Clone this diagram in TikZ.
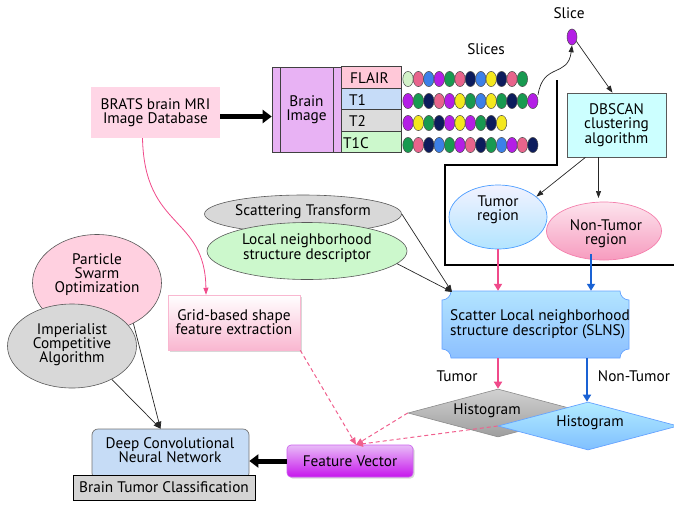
\documentclass[tikz,border=0pt]{standalone}
\usepackage{fontspec}
\setmainfont{PT Sans}
\usetikzlibrary{shapes.geometric,arrows.meta,shadows}
\definecolor{bratspink}{HTML}{FFD6E6}
\definecolor{brainviolet}{HTML}{E8B2F4}
\definecolor{flairpink}{HTML}{FFC8D8}
\definecolor{tonebl}{HTML}{C6DCF8}
\definecolor{ttwogr}{HTML}{DCDCDC}
\definecolor{tcgreen}{HTML}{CCF8CC}
\definecolor{dbcyan}{HTML}{CCFFFF}
\definecolor{bpale}{HTML}{D2F2C8}
\definecolor{bpink}{HTML}{E8648C}
\definecolor{bblue}{HTML}{3C80E8}
\definecolor{bpurple}{HTML}{B41EE6}
\definecolor{bgreen}{HTML}{189A50}
\definecolor{bnavy}{HTML}{0C1C5C}
\definecolor{byellow}{HTML}{F4E81E}
\definecolor{arrpink}{HTML}{F04A8A}
\definecolor{arrblue}{HTML}{1A62D4}
\definecolor{dashpink}{HTML}{F0608E}
\definecolor{psopink}{HTML}{FFD0E0}
\definecolor{icagray}{HTML}{D8D8D8}
\definecolor{dcnnblue}{HTML}{C6DCF6}
\definecolor{btcgray}{HTML}{D4D4D4}
\tikzset{
  every node/.style={font=\fontsize{15.3}{14}\selectfont, align=center, inner sep=0pt},
  bead/.style={draw=black!70, line width=0.5pt},
  thinarrow/.style={draw=black!85, line width=0.7pt, -{Triangle[length=7pt,width=5pt]}},
  fatarrow/.style={draw=black, line width=5pt, -{Triangle[length=9pt,width=13pt]}},
  colarrow/.style={line width=2.4pt, -{Triangle[length=7pt,width=8pt]}},
  dasharrow/.style={draw=dashpink, line width=1pt, dash pattern=on 4pt off 3pt, -{Triangle[length=7pt,width=6pt]}},
  ell/.style={ellipse, draw=black!65, line width=0.6pt},
  cell/.style={draw=black!75, line width=0.6pt, minimum width=60pt, minimum height=21.5pt}
}
\begin{document}
\begin{tikzpicture}[x=1pt,y=-1pt]
\path[use as bounding box] (0,0) rectangle (674,504);

% BRATS box
\node[fill=bratspink, minimum width=129pt, minimum height=51pt] (brats) at (155.5,112.5) {BRATS brain MRI\\Image Database};

% Brain image
\node[draw=black!75, line width=0.6pt, fill=brainviolet, minimum width=69pt, minimum height=85pt] (brain) at (306.5,109.5) {Brain\\Image};
\draw[black!75, line width=0.6pt] (280,67) -- (280,152) (333,67) -- (333,152);
\node[cell, fill=flairpink] (flair) at (371.5,77.5) {};
\node[cell, fill=tonebl] (tone) at (371.5,99) {};
\node[cell, fill=ttwogr] (ttwo) at (371.5,120.5) {};
\node[cell, fill=tcgreen] (tonec) at (371.5,142) {};
\node[anchor=west] at (350,78) {FLAIR};
\node[anchor=west] at (349,100) {T1};
\node[anchor=west] at (349,121) {T2};
\node[anchor=west] at (343,143) {T1C};

\draw[fatarrow] ([yshift=-4pt]brats.east) -- ([yshift=-4pt]brats.east -| brain.west);

% beads
\foreach \c [count=\i from 0] in {bpale,bpink,bblue,bpurple,bgreen,bpink,bnavy,bblue,byellow,bnavy,bpink,bgreen}
  \draw[bead, fill=\c] (408+\i*10.4,79) ellipse[x radius=5.2, y radius=7.6];
\foreach \c [count=\i from 0] in {bpurple,bgreen,bnavy,bpink,bpurple,byellow,bgreen,bblue,byellow,bgreen,bnavy,bgreen,bpurple}
  \draw[bead, fill=\c] (408+\i*10.4,101) ellipse[x radius=5.2, y radius=7.6];
\foreach \c [count=\i from 0] in {bpurple,byellow,bgreen,bnavy,bpurple,byellow,bpurple,bgreen,bnavy,byellow}
  \draw[bead, fill=\c] (408+\i*10.4,123) ellipse[x radius=5.2, y radius=7.6];
\foreach \c [count=\i from 0] in {bgreen,bpink,bnavy,bblue,bgreen,bpurple,bpink,bnavy,bgreen,bblue,bpurple,bpink,bnavy}
  \draw[bead, fill=\c] (408+\i*10.4,145) ellipse[x radius=5.2, y radius=7.6];

\node (slicestxt) at (486,49) {Slices};
\node (slicetxt) at (569,13) {Slice};
\node[ellipse, draw=black!70, line width=0.5pt, fill=bpurple, minimum width=10pt, minimum height=16pt] (slice) at (572,37) {};
\coordinate (rowend) at (538,95);
\draw[thinarrow] (rowend) .. controls (543,62) and (568,78) .. (slice.south);

% DBSCAN
\node[draw=black!65, line width=0.6pt, fill=dbcyan, minimum width=99pt, minimum height=64pt] (db) at (616.5,125) {DBSCAN\\clustering\\algorithm};
\draw[thinarrow] (slice.-45) -- ([xshift=-4pt]db.north);

% thick frame
\draw[black, line width=2.6pt] (557,80) -- (557,165) -- (445,165) -- (445,265) -- (676,265);

% regions
\node[ellipse, draw=blue!55!cyan!70, line width=0.7pt, top color=blue!5, bottom color=blue!35!cyan!30, minimum width=98pt, minimum height=64pt] (tumor) at (498,217) {};
\node at (498,210) {Tumor\\region};
\node[ellipse, draw=arrpink!70, line width=0.7pt, top color=white!85!arrpink, bottom color=arrpink!55, minimum width=115pt, minimum height=58pt] (nontumor) at (604,231) {};
\node at (606,234) {Non-Tumor\\region};
\draw[thinarrow] ([xshift=-31pt]db.south) -- (tumor.28);
\coordinate (dbs) at (598.5,157);
\draw[thinarrow] (dbs) -- (598.5,198);

% SLNS
\node[minimum width=187pt, minimum height=67pt, align=left] (slns) at (535.5,324.5) {};
\path[draw=blue!60!cyan!60, line width=0.7pt, top color=blue!35!cyan!30, bottom color=blue!55!cyan!45]
  (451,291) -- (620,291) .. controls (620,296) and (624,300) .. (629,300) -- (629,349)
  .. controls (624,349) and (620,353) .. (620,358) -- (451,358)
  .. controls (451,353) and (447,349) .. (442,349) -- (442,300)
  .. controls (447,300) and (451,296) .. (451,291) -- cycle;
\node[align=left, anchor=west] (slnstxt) at (450,324) {Scatter Local neighborhood\\structure descriptor (SLNS)};
\draw[colarrow, draw=arrpink, fill=arrpink] (tumor.south) -- (tumor.south |- slns.north);
\coordinate (bl1) at (591,254);
\draw[colarrow, draw=arrblue, fill=arrblue] (bl1) -- (bl1 |- slns.north);

% scattering / local
\node[ell, fill=icagray, minimum width=197pt, minimum height=38pt] (scat) at (303,214) {};
\node at (303,212) {Scattering Transform};
\node[ell, fill=tcgreen, minimum width=200pt, minimum height=57pt] (local) at (307,251) {};
\node at (307,248) {Local neighborhood\\structure descriptor};
\coordinate (slnsin) at (452,292);
\draw[thinarrow] (scat.east) -- (slnsin);
\draw[thinarrow] (local.-8) -- (slnsin);

% histograms
\node[diamond, draw=black!45, line width=0.6pt, top color=black!18, bottom color=black!38, minimum width=180pt, minimum height=48pt] (hista) at (498,413) {};
\node at (487,411) {Histogram};
\node[diamond, draw=blue!60!cyan!60, line width=0.7pt, top color=blue!25!cyan!30, bottom color=blue!50!cyan!50, minimum width=180pt, minimum height=48pt] (histb) at (588,426) {};
\node at (590,423) {Histogram};
\draw[colarrow, draw=arrpink, fill=arrpink] (tumor.south |- slns.south) -- (tumor.south |- hista.north);
\coordinate (bl2) at (587,358);
\draw[colarrow, draw=arrblue, fill=arrblue] (bl2) -- (bl2 |- histb.north);
\node (tumorlbl) at (457,376) {Tumor};
\node (nontumorlbl) at (634,376) {Non-Tumor};

% grid-based
\node[draw=arrpink!40, line width=0.5pt, top color=white, bottom color=arrpink!40, minimum width=132pt, minimum height=55pt, drop shadow={shadow xshift=2pt, shadow yshift=-2pt, fill=black!30}] (grid) at (234,322.5) {Grid-based shape\\feature extraction};
\draw[draw=arrpink, line width=0.8pt, -{Triangle[length=7pt,width=5pt]}] ([xshift=-13pt]brats.south) .. controls +(2,92) and +(-1,-80) .. ([xshift=-28pt]grid.north);

% PSO / ICA
\node[ell, fill=psopink, minimum width=129pt, minimum height=97pt] (pso) at (97,283) {};
\node at (97,275) {Particle\\Swarm\\Optimization};
\node[ell, fill=icagray, minimum width=129pt, minimum height=84pt] (ica) at (72,346) {};
\node at (72,345) {Imperialist\\Competitive\\Algorithm};

% DCNN / BTC
\node[draw=black!55, line width=0.7pt, fill=dcnnblue, rounded corners=6pt, minimum width=157pt, minimum height=50pt] (dcnn) at (170.5,454) {};
\node at (170,450) {Deep Convolutional\\Neural Network};
\node[draw=black, line width=0.7pt, fill=btcgray, minimum width=182pt, minimum height=25pt] (btc) at (164,487.5) {Brain Tumor Classification};
\draw[thinarrow] (pso.-48) -- ([xshift=-10pt]dcnn.north);
\draw[thinarrow] (ica.-40) -- ([xshift=-10pt]dcnn.north);

% Feature vector
\node[draw=bpurple!70, line width=0.6pt, rounded corners=4pt, top color=bpurple!30, bottom color=bpurple!75!magenta, minimum width=126pt, minimum height=32pt, drop shadow={shadow xshift=1.5pt, shadow yshift=-1.5pt, fill=black!30}] (fv) at (350,461) {Feature Vector};
\draw[fatarrow] (fv.west) -- (fv.west -| dcnn.east);

\draw[dasharrow] (grid.south east) -- ([xshift=6pt]fv.north);
\draw[dasharrow] (hista.west) -- ([xshift=6pt]fv.north);
\draw[dasharrow] (histb.west) -- ([xshift=6pt]fv.north);
\end{tikzpicture}
\end{document}
